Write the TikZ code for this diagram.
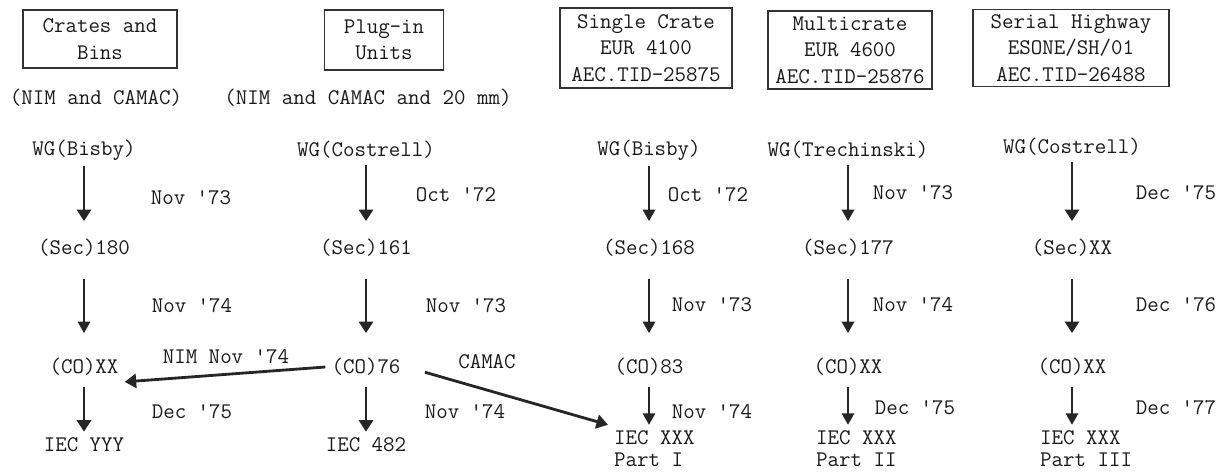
\documentclass[tikz,border=0pt]{standalone}
\usepackage{tikz}
\usetikzlibrary{arrows.meta,positioning}

\begin{document}
\begin{tikzpicture}[x=0.02cm, y=-0.02cm,
  every node/.style={font=\fontsize{12.7}{15}\selectfont\ttfamily, text=black!90},
  topbox/.style={draw=black!80, line width=0.9pt, align=center, inner sep=0pt},
  iecpart/.style={anchor=west, align=left, font=\fontsize{12.7}{12.5}\selectfont\ttfamily},
  arrbold/.style={-{Triangle[length=2.3mm, width=2.8mm]}, line width=1.6pt, black!85},
  arrthin/.style={-{Triangle[length=2.3mm, width=2.5mm]}, line width=0.9pt, black!85},
  upper/.style={shorten >=0.24cm},
  middle/.style={shorten <=0.32cm, shorten >=0.38cm},
  lower/.style={shorten <=0.1cm},
]
\useasboundingbox (0,0) rectangle (1218,473);

% Top row: subjects
\node[topbox, minimum width=3.08cm, minimum height=1.16cm] (box1) at (100,39)
  {Crates and\\Bins};
\node[topbox, minimum width=2.38cm, minimum height=1.2cm] (box2) at (384,40)
  {Plug-in\\Units};
\node[topbox, minimum width=3.44cm, minimum height=1.6cm] (box3) at (646,48)
  {Single Crate\\EUR 4100\\AEC.TID-25875};
\node[topbox, minimum width=3.28cm, minimum height=1.56cm] (box4) at (850,50)
  {Multicrate\\EUR 4600\\AEC.TID-25876};
\node[topbox, minimum width=3.92cm, minimum height=1.54cm] (box5) at (1071,48)
  {Serial Highway\\ESONE/SH/01\\AEC.TID-26488};

\node (scope1) at (96,98) {(NIM and CAMAC)};
\node (scope2) at (368,98) {(NIM and CAMAC and 20 mm)};

% Working groups
\node (wg1) at (84,150) {WG(Bisby)};
\node (wg2) at (366,150) {WG(Costrell)};
\node (wg3) at (649,150) {WG(Bisby)};
\node (wg4) at (848,150) {WG(Trechinski)};
\node (wg5) at (1072,147) {WG(Costrell)};

% Secretariat documents
\node (sec1) at (84,248) {(Sec)180};
\node (sec2) at (366,248) {(Sec)161};
\node (sec3) at (649,248) {(Sec)168};
\node (sec4) at (848,248) {(Sec)177};
\node (sec5) at (1072,248) {(Sec)XX};

% Central office documents
\node (co1) at (84,367) {(CO)XX};
\node (co2) at (366,367) {(CO)76};
\node (co3) at (649,367) {(CO)83};
\node (co4) at (848,367) {(CO)XX};
\node (co5) at (1072,367) {(CO)XX};

% Standards
\node (iec1) at (84,445) {IEC YYY};
\node (iec2) at (366,445) {IEC 482};
\node[iecpart] (iec3) at (608,449) {IEC XXX\\Part I};
\node[iecpart] (iec4) at (810,449) {IEC XXX\\Part II};
\node[iecpart] (iec5) at (1034,449) {IEC XXX\\Part III};

% Arrows
\draw[arrbold, upper] (wg1) -- (sec1);
\draw[arrbold, upper] (wg2) -- (sec2);
\draw[arrthin, upper] (wg3) -- (sec3);
\draw[arrthin, upper] (wg4) -- (sec4);
\draw[arrbold, upper] (wg5) -- (sec5);

\draw[arrthin, middle] (sec1) -- (co1);
\draw[arrbold, middle] (sec2) -- (co2);
\draw[arrthin, middle] (sec3) -- (co3);
\draw[arrthin, middle] (sec4) -- (co4);
\draw[arrbold, middle] (sec5) -- (co5);

\draw[arrbold, lower] (co1) -- (iec1);
\draw[arrbold, lower] (co2) -- (iec2);
\draw[arrthin, lower] (co3) -- (co3 |- iec3.north);
\draw[arrthin, lower] (co4) -- (co4 |- iec4.north);
\draw[arrthin, lower] (co5) -- (co5 |- iec5.north);

\draw[arrbold] (co2.west) -- (co1.south east);
\draw[arrbold, shorten <=0.38cm] (co2.east) -- (iec3.north west);
\node (nimlbl) at (226,357) {NIM Nov '74};
\node (camaclbl) at (487,362) {CAMAC};

% Dates
\node (d1a) at (191,198) {Nov '73};
\node (d2a) at (456,195) {Oct '72};
\node (d3a) at (708,195) {Oct '72};
\node (d4a) at (913,193) {Nov '73};
\node (d5a) at (1176,193) {Dec '75};

\node (d1b) at (192,306) {Nov '74};
\node (d2b) at (466,306) {Nov '73};
\node (d3b) at (712,305) {Nov '73};
\node (d4b) at (913,305) {Nov '74};
\node (d5b) at (1176,305) {Dec '76};

\node (d1c) at (192,412) {Dec '75};
\node (d2c) at (465,412) {Nov '74};
\node (d3c) at (712,412) {Nov '74};
\node (d4c) at (915,408) {Dec '75};
\node (d5c) at (1176,408) {Dec '77};

\end{tikzpicture}
\end{document}
